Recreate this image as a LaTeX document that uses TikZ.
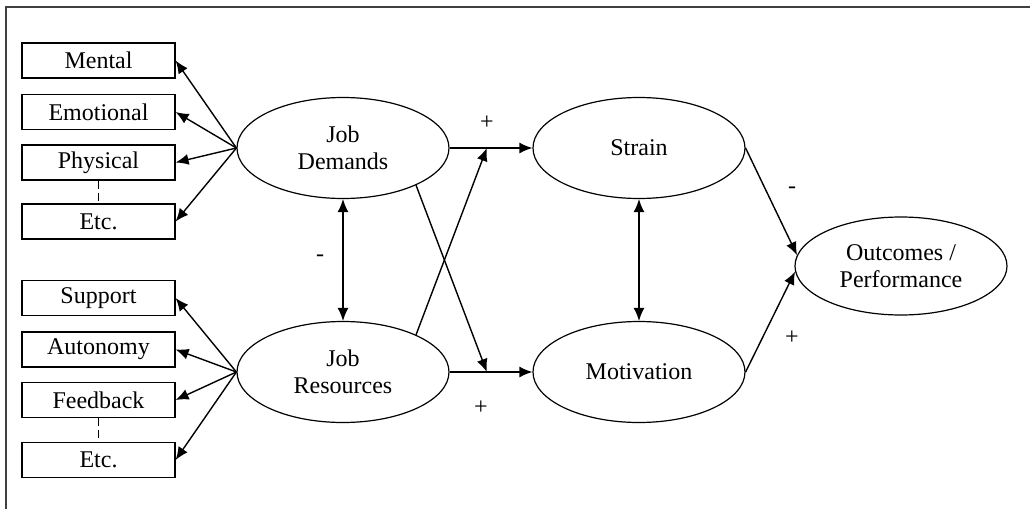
\documentclass[tikz,border=0pt]{standalone}
\usepackage{fontspec}
\setmainfont{Liberation Serif}
\usetikzlibrary{shapes.geometric,arrows.meta,calc}

\begin{document}
\begin{tikzpicture}[x=0.5pt,y=-0.5pt,
        factor/.style={draw, line width=0.6pt, minimum width=76.5pt, minimum height=17.5pt, inner sep=0pt, font=\fontsize{12}{13.5}\selectfont},
        latent/.style={draw, ellipse, line width=0.6pt, minimum width=106pt, minimum height=50.5pt, inner sep=0pt, align=center, font=\fontsize{12}{13.5}\selectfont},
        link/.style={line width=0.7pt, -{Latex[length=6.5pt,width=5.5pt]}},
        twoway/.style={line width=0.7pt, {Latex[length=6.5pt,width=5.5pt]}-{Latex[length=6.5pt,width=5.5pt]}},
        sign/.style={font=\fontsize{12}{13.5}\selectfont}]
                \useasboundingbox (0,0) rectangle (1030,509);
                \draw[line width=0.8pt, black!75] (1030,7) -- (6,7) -- (6,509);
                \node[factor] (mental) at (98.5,60.5) {Mental};
                \node[factor] (emotional) at (98.5,112) {Emotional};
                \node[factor] (physical) at (98.5,162.5) {Physical};
                \node[factor] (etcd) at (98.5,221.5) {Etc.};
                \node[factor] (support) at (98.5,298) {Support};
                \node[factor] (autonomy) at (98.5,349.5) {Autonomy};
                \node[factor] (feedback) at (98.5,400) {Feedback};
                \node[factor] (etcr) at (98.5,460) {Etc.};
                \draw[line width=0.6pt, dash pattern=on 4pt off 2pt] (physical.south) -- (etcd.north);
                \draw[line width=0.6pt, dash pattern=on 4pt off 2pt] (feedback.south) -- (etcr.north);
                \node[latent] (jd) at (343,148) {Job\\Demands};
                \node[latent] (jr) at (343,372) {Job\\Resources};
                \node[latent] (st) at (639,148) {Strain};
                \node[latent] (mo) at (639,372) {Motivation};
                \node[latent, minimum height=49pt] (oc) at (901,266) {Outcomes /\\Performance};
                \foreach \b in {mental,emotional,physical,etcd}
                        \draw[link] (jd.west) -- (\b.east);
                \foreach \b in {support,autonomy,feedback,etcr}
                        \draw[link] (jr.west) -- (\b.east);
                \draw[link] (jd.east) -- (st.west);
                \draw[link] (jr.east) -- (mo.west);
                \coordinate (upmeet) at ($(jd.east)!0.45!(st.west)$);
                \coordinate (lowmeet) at ($(jr.east)!0.45!(mo.west)$);
                \draw[link] (jd.-27) -- (lowmeet);
                \draw[link] (jr.27) -- (upmeet);
                \draw[twoway] (jd.south) -- (jr.north);
                \draw[twoway] (st.south) -- (mo.north);
                \draw[link] (st.east) -- (oc.174);
                \draw[link] (mo.east) -- (oc.183);
                \node[sign] (plusjd) at (487,123) {+};
                \node[sign] (plusjr) at (481,408) {+};
                \node[sign] (minusjj) at (320,258) {-};
                \node[sign] (minusst) at (792,190) {-};
                \node[sign] (plusmo) at (792,338) {+};
        \end{tikzpicture}
\end{document}
